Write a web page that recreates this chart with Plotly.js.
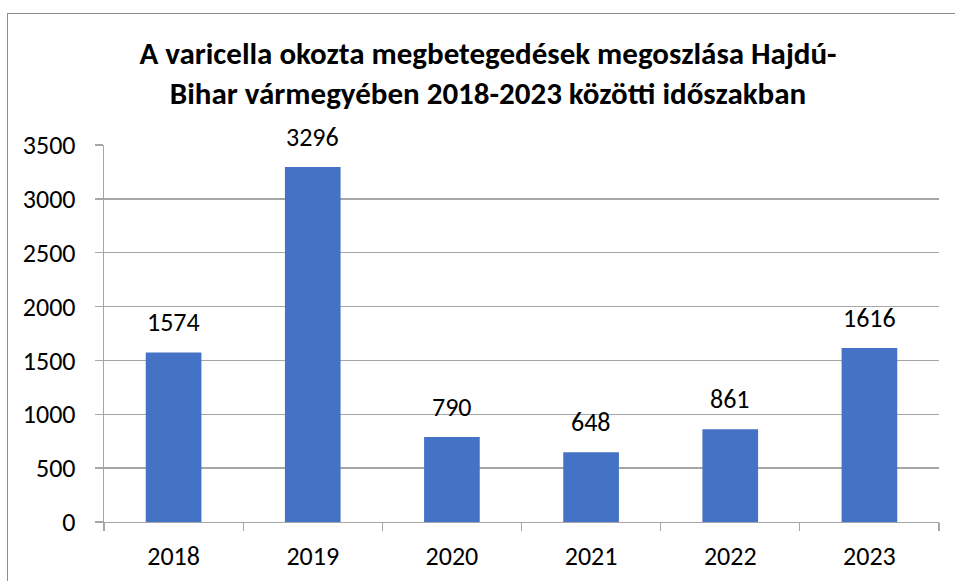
<!DOCTYPE html>
<html>
<head>
<meta charset="utf-8">
<script src="https://cdn.plot.ly/plotly-3.0.1.min.js"></script>
<style>
  html, body { margin:0; padding:0; background:#fff; }
  #wrap { position:relative; width:955px; height:581px; }
  #frame { position:absolute; left:7px; top:13px; width:960px; height:580px; border-left:1.5px solid #8c8c8c; border-top:1.5px solid #8c8c8c; pointer-events:none; }
  #chart { position:absolute; left:0; top:0; width:955px; height:581px; }
</style>
</head>
<body>
<div id="wrap">
  <div id="chart"></div>
  <div id="frame"></div>
</div>
<script>
const years = ['2018', '2019', '2020', '2021', '2022', '2023'];
const cases = [1574, 3296, 790, 648, 861, 1616];
const yTicks = [0, 500, 1000, 1500, 2000, 2500, 3000, 3500];
const chartTitle = 'A varicella okozta megbetegedések megoszlása Hajdú-<br>Bihar vármegyében 2018-2023 közötti időszakban';

const font = 'Carlito, Calibri, "Open Sans", "Liberation Sans", sans-serif';

const trace = {
  type: 'bar',
  x: years,
  y: cases,
  marker: { color: '#4472C4' },
  width: 0.4,
  hoverinfo: 'x+y'
};

// value labels, positioned by category index on the category axis
const labelAnnotations = years.map((yr, i) => ({
  x: i,
  y: cases[i],
  xref: 'x',
  yref: 'y',
  text: String(cases[i]),
  showarrow: false,
  yanchor: 'bottom',
  yshift: 12,
  font: { family: font, size: 26, color: '#000' }
}));

const layout = {
  width: 955,
  height: 581,
  margin: { l: 104, r: 16, t: 145, b: 59 },
  paper_bgcolor: '#fff',
  plot_bgcolor: '#fff',
  showlegend: false,
  title: {
    text: chartTitle,
    font: { family: font, size: 31, color: '#000', weight: 'bold' },
    x: 488 / 955,
    xref: 'container',
    xanchor: 'center',
    y: 1 - 64 / 581,
    yref: 'container',
    yanchor: 'top'
  },
  font: { family: font, color: '#000' },
  annotations: labelAnnotations,
  xaxis: {
    type: 'category',
    categoryorder: 'array',
    categoryarray: years,
    range: [-0.5, years.length - 0.5],
    showline: true,
    linecolor: '#a6a6a6',
    linewidth: 1.3,
    ticks: 'outside',
    tickson: 'boundaries',
    ticklen: 8,
    tickcolor: '#a6a6a6',
    tickwidth: 1.3,
    tickangle: 0,
    ticklabelstandoff: 10,
    tickfont: { family: font, size: 26, color: '#000' },
    showgrid: false,
    fixedrange: true
  },
  yaxis: {
    range: [0, 3500],
    tickvals: yTicks,
    ticktext: yTicks.map(String),
    showline: true,
    linecolor: '#a6a6a6',
    linewidth: 1.3,
    ticks: 'outside',
    ticklen: 8,
    tickcolor: '#a6a6a6',
    tickwidth: 1.3,
    ticklabelstandoff: 14,
    showgrid: true,
    gridcolor: '#a6a6a6',
    gridwidth: 1.3,
    zeroline: false,
    tickfont: { family: font, size: 26, color: '#000' },
    fixedrange: true
  }
};

Plotly.newPlot('chart', [trace], layout, { displayModeBar: false, staticPlot: true });
</script>
</body>
</html>
